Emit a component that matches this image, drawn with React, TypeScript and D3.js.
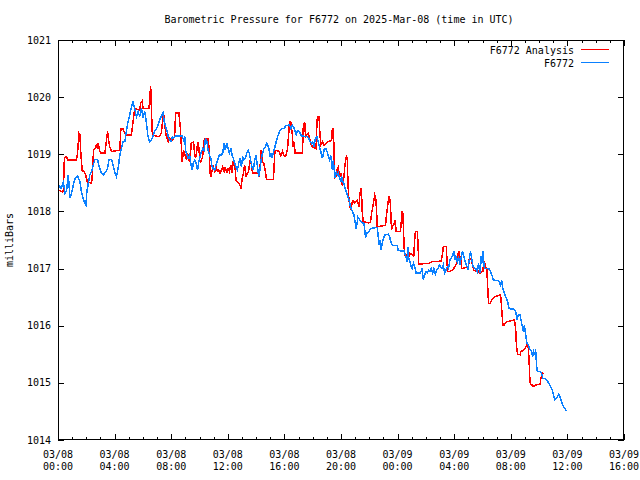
import React from "react";
import * as d3 from "d3";

const titleText = "Barometric Pressure for F6772 on 2025-Mar-08 (time in UTC)";
const yLabelText = "milliBars";
const seriesNames = ["F6772 Analysis", "F6772"];
const seriesColors = ["#ff0000", "#0a80ff"];
const startTime = Date.UTC(2025, 2, 8, 0, 0);
const spanHours = 40;
const xMajorHours = [0, 4, 8, 12, 16, 20, 24, 28, 32, 36, 40];
const yTicks = [1014, 1015, 1016, 1017, 1018, 1019, 1020, 1021];

const analysisHours = [
  0.0, 0.07, 0.31, 0.38, 0.45, 0.61, 0.68, 1.31, 1.38, 1.48, 1.55, 1.62, 1.71, 1.85, 1.95, 2.07, 2.37, 2.44, 2.51, 2.61,
  2.7, 2.79, 2.84, 2.93, 3.01, 3.31, 3.43, 3.5, 3.59, 3.66, 3.78, 4.37, 4.44, 4.6, 4.72, 4.83, 5.19, 5.3, 5.42, 5.77,
  5.84, 5.94, 6.01, 6.43, 6.5, 6.55, 6.6, 6.67, 6.78, 7.07, 7.18, 7.3, 7.37, 7.46, 7.61, 7.7, 7.79, 7.89, 8.0, 8.12,
  8.24, 8.31, 8.54, 8.59, 8.64, 8.71, 8.78, 8.87, 8.94, 9.06, 9.15, 9.25, 9.34, 9.41, 9.58, 9.65, 9.72, 9.81, 9.88, 9.95,
  10.02, 10.09, 10.19, 10.28, 10.35, 10.59, 10.66, 10.7, 10.75, 10.82, 10.89, 10.99, 11.08, 11.17, 11.27, 11.36, 11.45, 11.55, 11.64, 11.74,
  11.83, 11.92, 12.02, 12.11, 12.21, 12.3, 12.39, 12.49, 12.58, 12.68, 12.77, 12.86, 12.93, 13.0, 13.1, 13.19, 13.29, 13.38, 13.47, 13.57,
  13.66, 13.75, 13.99, 14.11, 14.22, 14.32, 14.36, 14.46, 14.55, 14.65, 14.74, 14.81, 15.23, 15.28, 15.33, 15.42, 15.63, 15.75, 15.87, 15.99,
  16.1, 16.22, 16.29, 16.36, 16.45, 16.55, 16.62, 16.69, 16.76, 17.28, 17.32, 17.37, 17.44, 17.49, 17.58, 17.68, 17.77, 17.86, 17.98, 18.24,
  18.29, 18.33, 18.45, 18.5, 18.57, 18.69, 18.8, 18.92, 19.04, 19.34, 19.39, 19.46, 19.51, 19.55, 19.67, 19.74, 19.81, 19.86, 19.91, 19.98,
  20.05, 20.09, 20.16, 20.28, 20.38, 20.45, 20.49, 20.56, 20.68, 20.75, 20.8, 20.87, 20.94, 21.15, 21.22, 21.27, 21.34, 21.41, 21.46, 21.5,
  21.57, 21.97, 22.09, 22.16, 22.25, 22.32, 22.39, 22.44, 22.51, 22.56, 23.15, 23.19, 23.26, 23.33, 23.4, 23.47, 23.52, 23.57, 23.61, 23.73,
  23.8, 23.85, 23.9, 24.2, 24.27, 24.32, 24.37, 24.41, 24.46, 24.51, 24.67, 24.74, 24.79, 24.86, 25.14, 25.21, 25.26, 25.4, 25.45, 25.49,
  26.2, 26.43, 27.09, 27.18, 27.23, 27.44, 27.49, 27.53, 27.72, 27.84, 27.96, 28.19, 28.26, 28.33, 28.4, 28.47, 28.54, 29.01, 29.06, 29.2,
  29.25, 29.32, 29.39, 29.48, 29.58, 29.67, 29.72, 29.81, 30.02, 30.09, 30.19, 30.23, 30.3, 30.35, 30.4, 30.44, 30.54, 30.66, 30.77, 30.89,
  31.01, 31.27, 31.31, 31.36, 31.41, 31.45, 31.52, 31.59, 31.71, 32.25, 32.3, 32.35, 32.39, 32.44, 32.49, 32.65, 32.72, 32.89, 33.0, 33.14,
  33.19, 33.24, 33.29, 33.33, 33.38, 33.59, 33.71, 33.82, 34.06, 34.13, 34.18, 34.27, 34.32,
];
const analysisValues = [
  1018.4, 1018.37, 1018.34, 1018.37, 1018.93, 1018.96, 1018.9, 1018.9, 1019.02, 1019.37, 1019.34, 1018.99, 1018.72, 1018.69, 1018.64, 1018.52, 1018.49, 1018.69, 1019.07, 1019.1,
  1019.16, 1019.1, 1019.19, 1019.07, 1019.02, 1019.02, 1019.25, 1019.4, 1019.22, 1019.13, 1019.05, 1019.07, 1019.44, 1019.44, 1019.37, 1019.34, 1019.34, 1019.57, 1019.8, 1019.77,
  1019.89, 1019.93, 1019.8, 1019.8, 1020.04, 1020.2, 1019.8, 1019.34, 1019.33, 1019.31, 1019.32, 1019.37, 1019.54, 1019.72, 1019.37, 1019.28, 1019.22, 1019.28, 1019.22, 1019.25,
  1019.31, 1019.72, 1019.73, 1019.6, 1019.48, 1019.19, 1018.87, 1019.07, 1019.02, 1018.93, 1019.02, 1018.9, 1018.87, 1019.19, 1019.22, 1019.02, 1018.93, 1019.07, 1019.22, 1019.13,
  1018.9, 1018.87, 1018.93, 1019.07, 1019.28, 1019.28, 1019.16, 1018.96, 1018.67, 1018.61, 1018.72, 1018.78, 1018.7, 1018.78, 1018.7, 1018.72, 1018.67, 1018.72, 1018.78, 1018.7,
  1018.78, 1018.67, 1018.75, 1018.7, 1018.81, 1018.67, 1018.9, 1018.84, 1018.55, 1018.52, 1018.49, 1018.46, 1018.4, 1018.55, 1018.67, 1018.81, 1018.61, 1018.67, 1018.7, 1018.9,
  1018.84, 1018.67, 1018.67, 1018.7, 1018.61, 1018.9, 1019.07, 1018.87, 1018.84, 1018.7, 1018.56, 1018.56, 1018.56, 1018.84, 1019.05, 1019.07, 1019.05, 1018.97, 1019.05, 1018.97,
  1018.97, 1019.1, 1019.31, 1019.57, 1019.57, 1019.37, 1019.13, 1019.22, 1019.02, 1019.02, 1019.42, 1019.54, 1019.55, 1019.31, 1019.34, 1019.37, 1019.28, 1019.19, 1019.13, 1019.1,
  1019.48, 1019.65, 1019.66, 1019.4, 1019.16, 1019.22, 1019.16, 1019.19, 1019.22, 1019.24, 1019.45, 1019.45, 1019.02, 1018.58, 1018.61, 1018.75, 1018.78, 1018.67, 1018.61, 1018.67,
  1018.55, 1018.46, 1018.49, 1018.81, 1018.96, 1018.93, 1018.49, 1018.2, 1018.02, 1018.17, 1018.11, 1018.2, 1018.14, 1018.2, 1018.14, 1018.08, 1018.32, 1018.4, 1018.26, 1018.0,
  1017.82, 1017.8, 1017.82, 1017.97, 1018.08, 1018.2, 1018.29, 1018.26, 1018.05, 1017.73, 1017.76, 1017.88, 1018.02, 1018.17, 1018.25, 1018.2, 1017.97, 1017.67, 1017.73, 1017.76,
  1017.84, 1017.79, 1017.65, 1017.65, 1017.85, 1018.01, 1017.97, 1017.73, 1017.38, 1017.24, 1017.22, 1017.38, 1017.21, 1017.27, 1017.22, 1017.5, 1017.65, 1017.65, 1017.38, 1017.08,
  1017.09, 1017.12, 1017.13, 1017.27, 1017.39, 1017.39, 1017.15, 1016.95, 1016.95, 1016.97, 1017.0, 1017.09, 1017.24, 1017.31, 1017.21, 1017.15, 1017.0, 1017.03, 1017.16, 1017.18,
  1017.12, 1017.03, 1016.97, 1016.97, 1016.95, 1016.97, 1016.95, 1016.92, 1016.95, 1017.12, 1017.09, 1017.03, 1017.0, 1016.77, 1016.51, 1016.39, 1016.39, 1016.45, 1016.48, 1016.51,
  1016.52, 1016.54, 1016.45, 1016.27, 1016.1, 1016.01, 1016.01, 1016.04, 1016.07, 1016.1, 1016.04, 1015.9, 1015.69, 1015.55, 1015.5, 1015.49, 1015.55, 1015.57, 1015.6, 1015.66,
  1015.66, 1015.6, 1015.4, 1015.14, 1014.99, 1014.94, 1014.95, 1014.97, 1014.97, 1015.08, 1015.14, 1015.17, 1015.16,
];

const stationHours = [
  0.0, 0.07, 0.21, 0.38, 0.49, 0.61, 0.73, 0.85, 0.96, 1.08, 1.2, 1.38, 1.55, 1.67, 1.78, 1.9, 1.97, 2.04, 2.14, 2.25,
  2.37, 2.49, 2.61, 2.79, 2.89, 3.03, 3.19, 3.31, 3.5, 3.61, 3.78, 3.9, 4.01, 4.13, 4.25, 4.37, 4.48, 4.6, 4.72, 4.83,
  4.95, 5.07, 5.19, 5.3, 5.42, 5.54, 5.66, 5.77, 5.89, 6.01, 6.13, 6.24, 6.36, 6.48, 6.6, 6.71, 6.83, 6.95, 7.07, 7.18,
  7.3, 7.42, 7.51, 7.61, 7.7, 7.79, 7.89, 7.98, 8.08, 8.17, 8.31, 8.78, 8.87, 8.97, 9.01, 9.11, 9.2, 9.3, 9.39, 9.48,
  9.58, 9.67, 9.77, 9.86, 9.95, 10.05, 10.14, 10.23, 10.33, 10.42, 10.52, 10.61, 10.7, 10.8, 10.89, 10.99, 11.08, 11.17, 11.29, 11.41,
  11.55, 11.64, 11.74, 11.83, 11.92, 12.02, 12.11, 12.21, 12.3, 12.39, 12.49, 12.58, 12.68, 12.77, 12.86, 12.96, 13.05, 13.14, 13.24, 13.33,
  13.43, 13.52, 13.61, 13.71, 13.8, 13.9, 13.99, 14.08, 14.18, 14.27, 14.37, 14.46, 14.55, 14.65, 14.74, 14.83, 14.95, 15.0, 15.05, 15.14,
  15.23, 15.33, 15.42, 15.52, 15.61, 15.7, 15.8, 15.99, 16.08, 16.27, 16.36, 16.45, 16.55, 16.64, 16.74, 16.83, 16.92, 17.02, 17.11, 17.21,
  17.63, 17.72, 17.82, 17.91, 18.0, 18.1, 18.19, 18.29, 18.38, 18.45, 18.57, 18.69, 18.76, 18.83, 18.92, 19.01, 19.11, 19.2, 19.27, 19.34,
  19.39, 19.46, 19.53, 19.58, 19.67, 19.74, 19.81, 19.91, 19.98, 20.05, 20.14, 20.24, 20.33, 20.45, 20.56, 20.68, 20.8, 20.92, 20.99, 21.06,
  21.13, 21.2, 21.27, 21.39, 21.62, 21.69, 21.74, 21.78, 21.88, 21.97, 22.09, 22.56, 22.63, 22.7, 22.77, 22.82, 22.91, 23.0, 23.1, 23.33,
  23.43, 23.52, 23.62, 23.97, 24.04, 24.32, 24.44, 24.51, 24.6, 24.67, 24.74, 24.79, 24.83, 24.93, 25.02, 25.12, 25.21, 25.31, 25.61, 25.73,
  25.82, 25.91, 26.01, 26.1, 26.2, 26.29, 26.38, 26.48, 26.57, 26.67, 26.76, 26.85, 26.95, 27.04, 27.14, 27.23, 27.32, 27.42, 27.51, 27.6,
  27.7, 27.79, 27.89, 27.98, 28.03, 28.12, 28.22, 28.31, 28.4, 28.5, 28.59, 28.68, 28.78, 28.87, 28.97, 29.15, 29.25, 29.34, 29.44, 29.53,
  29.62, 29.72, 29.81, 29.91, 29.97, 30.05, 30.09, 30.14, 30.37, 30.47, 30.56, 30.66, 30.77, 31.08, 31.17, 31.27, 31.36, 31.43, 31.5, 31.59,
  31.69, 31.78, 31.88, 32.18, 32.3, 32.37, 32.44, 32.53, 32.65, 32.72, 32.82, 32.89, 32.96, 33.05, 33.14, 33.24, 33.33, 33.4, 33.47, 33.54,
  33.61, 33.71, 33.75, 33.8, 33.85, 33.94, 34.06, 34.18, 34.27, 34.41, 34.55, 34.69, 34.83, 34.93, 35.02, 35.12, 35.21, 35.3, 35.4, 35.47,
  35.54, 35.63, 35.73, 35.82, 35.94,
];
const stationValues = [
  1018.45, 1018.46, 1018.4, 1018.51, 1018.32, 1018.37, 1018.64, 1018.23, 1018.32, 1018.46, 1018.57, 1018.62, 1018.52, 1018.32, 1018.23, 1018.14, 1018.11, 1018.34, 1018.49, 1018.64,
  1018.69, 1018.81, 1018.91, 1018.91, 1018.81, 1018.69, 1018.64, 1018.67, 1018.75, 1018.91, 1018.91, 1018.81, 1018.69, 1018.61, 1018.75, 1018.99, 1019.1, 1019.22, 1019.22, 1019.4,
  1019.57, 1019.69, 1019.83, 1019.92, 1019.8, 1019.66, 1019.75, 1019.66, 1019.8, 1019.66, 1019.75, 1019.57, 1019.31, 1019.22, 1019.25, 1019.31, 1019.4, 1019.45, 1019.51, 1019.6,
  1019.66, 1019.72, 1019.57, 1019.48, 1019.42, 1019.31, 1019.25, 1019.22, 1019.31, 1019.28, 1019.32, 1019.32, 1019.25, 1019.31, 1019.07, 1018.99, 1018.93, 1018.99, 1018.84, 1018.72,
  1018.87, 1018.9, 1018.84, 1018.72, 1018.87, 1018.96, 1019.05, 1019.1, 1019.07, 1019.28, 1019.22, 1019.07, 1018.99, 1018.93, 1018.78, 1018.75, 1018.72, 1018.81, 1018.9, 1018.99,
  1018.99, 1019.02, 1019.19, 1019.07, 1019.2, 1019.1, 1019.02, 1019.1, 1018.99, 1018.93, 1018.84, 1018.78, 1018.72, 1018.84, 1018.93, 1018.78, 1018.96, 1018.9, 1018.93, 1019.02,
  1019.07, 1019.02, 1018.9, 1018.78, 1018.72, 1018.9, 1018.99, 1018.81, 1018.61, 1018.72, 1018.93, 1019.02, 1019.1, 1019.13, 1019.19, 1019.16, 1019.05, 1018.96, 1019.02, 1018.93,
  1019.05, 1019.13, 1019.22, 1019.31, 1019.37, 1019.42, 1019.45, 1019.45, 1019.5, 1019.51, 1019.51, 1019.45, 1019.51, 1019.48, 1019.42, 1019.34, 1019.42, 1019.41, 1019.37, 1019.32,
  1019.31, 1019.28, 1019.22, 1019.19, 1019.22, 1019.13, 1019.28, 1019.31, 1019.22, 1019.16, 1019.05, 1018.93, 1019.02, 1019.1, 1019.1, 1019.05, 1018.96, 1018.9, 1018.99, 1018.84,
  1018.72, 1018.9, 1018.7, 1018.58, 1018.7, 1018.64, 1018.67, 1018.58, 1018.52, 1018.61, 1018.52, 1018.46, 1018.37, 1018.29, 1018.2, 1018.08, 1018.0, 1017.94, 1017.82, 1017.7,
  1017.79, 1017.9, 1017.88, 1017.82, 1017.79, 1017.65, 1017.53, 1017.62, 1017.62, 1017.65, 1017.7, 1017.72, 1017.56, 1017.41, 1017.5, 1017.32, 1017.44, 1017.53, 1017.59, 1017.6,
  1017.56, 1017.47, 1017.41, 1017.4, 1017.32, 1017.3, 1017.32, 1017.27, 1017.21, 1017.12, 1017.38, 1017.18, 1017.15, 1017.06, 1017.0, 1017.09, 1017.03, 1016.92, 1016.92, 1017.0,
  1016.8, 1016.89, 1016.95, 1016.92, 1016.97, 1016.95, 1017.0, 1016.92, 1017.0, 1016.9, 1016.97, 1017.0, 1017.06, 1017.03, 1017.0, 1017.06, 1016.92, 1016.97, 1017.03, 1017.0,
  1017.15, 1017.18, 1017.24, 1017.3, 1017.15, 1017.21, 1017.12, 1017.21, 1017.06, 1017.21, 1017.3, 1017.21, 1017.12, 1017.06, 1017.0, 1017.3, 1017.15, 1017.03, 1017.0, 1017.0,
  1016.95, 1017.09, 1016.92, 1017.21, 1017.09, 1017.3, 1017.12, 1017.0, 1017.0, 1016.99, 1016.95, 1016.89, 1016.8, 1016.79, 1016.77, 1016.71, 1016.79, 1016.65, 1016.6, 1016.54,
  1016.48, 1016.42, 1016.3, 1016.29, 1016.27, 1016.22, 1016.1, 1016.19, 1016.19, 1016.1, 1015.98, 1015.9, 1016.01, 1015.84, 1015.69, 1015.66, 1015.6, 1015.57, 1015.55, 1015.46,
  1015.55, 1015.49, 1015.6, 1015.4, 1015.22, 1015.2, 1015.2, 1015.17, 1015.08, 1015.08, 1015.05, 1014.99, 1014.93, 1014.87, 1014.79, 1014.7, 1014.73, 1014.76, 1014.8, 1014.76,
  1014.7, 1014.64, 1014.58, 1014.55, 1014.5,
];

const FONT = "'DejaVu Sans Mono', 'Liberation Mono', monospace";

export default function App() {
  const W = 640;
  const H = 480;
  const L = 58;
  const R = 624;
  const T = 40;
  const B = 440;

  const t0 = new Date(startTime);
  const toDate = (h: number) => new Date(startTime + h * 3600 * 1000);
  const x = d3.scaleUtc().domain([t0, toDate(spanHours)]).range([L, R]);
  const y = d3.scaleLinear().domain([yTicks[0], yTicks[yTicks.length - 1]]).range([B, T]);

  const series = [
    { name: seriesNames[0], color: seriesColors[0], hours: analysisHours, values: analysisValues },
    { name: seriesNames[1], color: seriesColors[1], hours: stationHours, values: stationValues },
  ];

  const lineGen = d3
    .line<[number, number]>()
    .x((d) => x(toDate(d[0])))
    .y((d) => y(d[1]));

  const fmtDay = d3.utcFormat("%m/%d");
  const fmtTime = d3.utcFormat("%H:%M");
  const majorDates = xMajorHours.map(toDate);
  const minorDates = d3.utcHour.range(t0, toDate(spanHours)).filter((d) => d.getUTCHours() % 4 !== 0);

  const majorLen = 6;
  const minorLen = 3;
  const px = (v: number) => Math.round(v) + 0.5;

  return (
    <div style={{ position: "absolute", left: 0, top: 0 }}>
      <svg width={W} height={H} style={{ display: "block", background: "#fff" }}>
        <rect x={0} y={0} width={W} height={H} fill="#fff" />
        <text x={339} y={23} textAnchor="middle" fontFamily={FONT} fontSize={10} fill="#000">
          {titleText}
        </text>
        <g shapeRendering="crispEdges" stroke="#000" strokeWidth={1}>
          {yTicks.map((v) => (
            <g key={"yt" + v}>
              <line x1={L} x2={L + majorLen} y1={px(y(v))} y2={px(y(v))} />
              <line x1={R - majorLen} x2={R} y1={px(y(v))} y2={px(y(v))} />
            </g>
          ))}
          {majorDates.map((d, i) => (
            <g key={"xt" + i}>
              <line x1={px(x(d))} x2={px(x(d))} y1={B} y2={B - majorLen} />
              <line x1={px(x(d))} x2={px(x(d))} y1={T} y2={T + majorLen} />
            </g>
          ))}
          {minorDates.map((d, i) => (
            <g key={"xm" + i}>
              <line x1={px(x(d))} x2={px(x(d))} y1={B} y2={B - minorLen} />
              <line x1={px(x(d))} x2={px(x(d))} y1={T} y2={T + minorLen} />
            </g>
          ))}
        </g>
        <g fontFamily={FONT} fontSize={10} fill="#000">
          {yTicks.map((v) => (
            <text key={"yl" + v} x={L - 7} y={y(v)} dy="0.35em" textAnchor="end">
              {String(v)}
            </text>
          ))}
          {majorDates.map((d, i) => (
            <text key={"xl" + i} x={x(d)} y={B + 18} textAnchor="middle">
              <tspan x={x(d)}>{fmtDay(d)}</tspan>
              <tspan x={x(d)} dy={12}>
                {fmtTime(d)}
              </tspan>
            </text>
          ))}
          <text transform={`translate(13, ${(T + B) / 2}) rotate(-90)`} textAnchor="middle">
            {yLabelText}
          </text>
        </g>
        <g fill="none" strokeWidth={1.5} strokeLinejoin="miter" shapeRendering="crispEdges">
          {series.map((s) => (
            <path
              key={s.name}
              d={lineGen(s.hours.map((h, i) => [h, s.values[i]] as [number, number])) || ""}
              stroke={s.color}
            />
          ))}
        </g>
        <g fontFamily={FONT} fontSize={10} fill="#000">
          {series.map((s, i) => (
            <g key={"lg" + i}>
              <text x={574} y={50 + i * 13} dy="0.35em" textAnchor="end">
                {s.name}
              </text>
              <line
                x1={581}
                x2={609}
                y1={49.5 + i * 13}
                y2={49.5 + i * 13}
                stroke={s.color}
                strokeWidth={1}
                shapeRendering="crispEdges"
              />
            </g>
          ))}
        </g>
        <rect
          x={L + 0.5}
          y={T + 0.5}
          width={R - L - 1}
          height={B - T - 1}
          fill="none"
          stroke="#000"
          strokeWidth={1}
          shapeRendering="crispEdges"
        />
      </svg>
    </div>
  );
}
